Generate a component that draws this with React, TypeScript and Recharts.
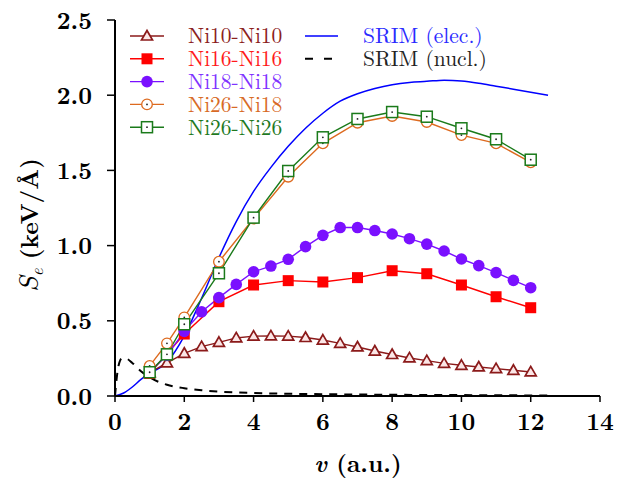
import { LineChart, Line, XAxis, YAxis } from "recharts";

// velocities (a.u.) and stopping (keV/Å)
const ni10V = [1, 1.5, 2, 2.5, 3, 3.5, 4, 4.5, 5, 5.5, 6, 6.5, 7, 7.5, 8, 8.5, 9, 9.5, 10, 10.5, 11, 11.5, 12];
const ni10S = [0.155, 0.22, 0.284, 0.328, 0.357, 0.386, 0.398, 0.4, 0.398, 0.389, 0.372, 0.35, 0.326, 0.299, 0.276, 0.253, 0.235, 0.217, 0.204, 0.193, 0.182, 0.171, 0.16];

const ni16V = [1, 2, 3, 4, 5, 6, 7, 8, 9, 10, 11, 12];
const ni16S = [0.15, 0.412, 0.627, 0.738, 0.767, 0.758, 0.787, 0.833, 0.813, 0.738, 0.66, 0.587];

const ni18V = [1, 1.5, 2, 2.5, 3, 3.5, 4, 4.5, 5, 5.5, 6, 6.5, 7, 7.5, 8, 8.5, 9, 9.5, 10, 10.5, 11, 11.5, 12];
const ni18S = [0.16, 0.27, 0.43, 0.56, 0.654, 0.742, 0.826, 0.864, 0.909, 0.993, 1.068, 1.12, 1.12, 1.1, 1.077, 1.046, 1.01, 0.964, 0.911, 0.867, 0.82, 0.769, 0.72];

const ni2618V = [1, 1.5, 2, 3, 4, 5, 6, 7, 8, 9, 10, 11, 12];
const ni2618S = [0.2, 0.35, 0.523, 0.893, 1.18, 1.458, 1.68, 1.817, 1.862, 1.822, 1.735, 1.68, 1.554];

const ni2626V = [1, 1.5, 2, 3, 4, 5, 6, 7, 8, 9, 10, 11, 12];
const ni2626S = [0.158, 0.277, 0.477, 0.816, 1.186, 1.496, 1.72, 1.842, 1.888, 1.857, 1.78, 1.707, 1.571];

const elecV = [0, 0.25, 0.5, 0.75, 1, 1.5, 2, 2.5, 3, 3.5, 4, 4.5, 5, 5.5, 6, 6.5, 7, 7.5, 8, 8.5, 9, 9.5, 10, 10.5, 11, 11.5, 12, 12.5];
const elecS = [0, 0.02, 0.06, 0.11, 0.15, 0.225, 0.4, 0.65, 0.92, 1.16, 1.36, 1.52, 1.66, 1.78, 1.88, 1.96, 2.01, 2.045, 2.07, 2.085, 2.092, 2.1, 2.095, 2.08, 2.06, 2.04, 2.02, 2.0];

const nuclV = [0, 0.05, 0.1, 0.2, 0.3, 0.5, 0.75, 1, 1.25, 1.5, 2, 2.5, 3, 4, 5, 6, 7, 8, 9, 10, 11, 12, 12.5];
const nuclS = [0, 0.12, 0.2, 0.25, 0.25, 0.22, 0.165, 0.125, 0.095, 0.075, 0.052, 0.038, 0.029, 0.02, 0.015, 0.012, 0.01, 0.008, 0.007, 0.006, 0.005, 0.004, 0.004];

const xTicks = [0, 2, 4, 6, 8, 10, 12, 14];
const yTicks = [0, 0.5, 1, 1.5, 2, 2.5];

const C10 = "#8b1a1a";
const C16 = "#ff0000";
const C18 = "#7a10ff";
const C2618 = "#dd6a1f";
const C2626 = "#1a7a1a";
const CELEC = "#0000ff";

const pts = (v: number[], s: number[]) => v.map((x, i) => ({ v: x, s: s[i] }));

const cm = '"Latin Modern Roman", "DejaVu Serif", serif';

type DotProps = { cx?: number; cy?: number; index?: number };

function Tri({ cx = 0, cy = 0, color }: { cx?: number; cy?: number; color: string }) {
  return (
    <path
      d={`M${cx},${cy - 5.5} L${cx + 5.5},${cy + 4} L${cx - 5.5},${cy + 4} Z`}
      fill="#fbe6e6"
      stroke={color}
      strokeWidth={1.7}
    />
  );
}
function Sq({ cx = 0, cy = 0, color, open }: { cx?: number; cy?: number; color: string; open?: boolean }) {
  return (
    <g>
      <rect x={cx - 5.5} y={cy - 5.5} width={11} height={11} fill={open ? "#fff" : color} stroke={color} strokeWidth={open ? 1.5 : 0} />
      {open && <circle cx={cx} cy={cy} r={0.9} fill="#222" />}
    </g>
  );
}
function Circ({ cx = 0, cy = 0, color, open }: { cx?: number; cy?: number; color: string; open?: boolean }) {
  return (
    <g>
      <circle cx={cx} cy={cy} r={open ? 5.3 : 5.8} fill={open ? "#fff" : color} stroke={color} strokeWidth={open ? 1.3 : 0} />
      {open && <circle cx={cx} cy={cy} r={0.9} fill="#222" />}
    </g>
  );
}

const series = [
  { name: "Ni10-Ni10", v: ni10V, s: ni10S, color: C10, text: "#8b2020", Marker: (p: any) => <Tri {...p} color={C10} /> },
  { name: "Ni16-Ni16", v: ni16V, s: ni16S, color: C16, text: "#ff1a1a", Marker: (p: any) => <Sq {...p} color={C16} /> },
  { name: "Ni18-Ni18", v: ni18V, s: ni18S, color: C18, text: "#8033ff", Marker: (p: any) => <Circ {...p} color={C18} /> },
  { name: "Ni26-Ni18", v: ni2618V, s: ni2618S, color: C2618, text: "#d86a26", Marker: (p: any) => <Circ {...p} color={C2618} open /> },
  { name: "Ni26-Ni26", v: ni2626V, s: ni2626S, color: C2626, text: "#1f7a1f", Marker: (p: any) => <Sq {...p} color={C2626} open /> },
];

function Overlay() {
  const rowY = (i: number) => 36 + i * 22.8;
  const lg = { fontFamily: cm, fontSize: 21.5 };
  return (
    <svg width={617} height={483} style={{ position: "absolute", left: 0, top: 0, pointerEvents: "none" }}>
      {series.map((s, i) => (
        <g key={s.name}>
          <line x1={130} x2={164} y1={rowY(i)} y2={rowY(i)} stroke={s.color} strokeWidth={1.4} />
          <s.Marker cx={147} cy={rowY(i)} />
          <text x={188} y={rowY(i) + 7.3} style={lg} fill={s.text}>
            {s.name}
          </text>
        </g>
      ))}
      <line x1={305} x2={338} y1={rowY(0)} y2={rowY(0)} stroke={CELEC} strokeWidth={1.5} />
      <text x={363} y={rowY(0) + 7.3} style={lg} fill="#2a2aff">
        SRIM (elec.)
      </text>
      <line x1={305} x2={334} y1={rowY(1)} y2={rowY(1)} stroke="#000" strokeWidth={2} strokeDasharray="8 11" />
      <text x={363} y={rowY(1) + 7.3} style={lg} fill="#222">
        SRIM (nucl.)
      </text>

      <text x={358} y={472} textAnchor="middle" style={{ fontFamily: cm, fontSize: 24, fontWeight: "bold" }} fill="#000">
        <tspan style={{ fontStyle: "italic" }}>v</tspan> (a.u.)
      </text>
      <text
        transform="translate(38,225) rotate(-90)"
        textAnchor="middle"
        style={{ fontFamily: cm, fontSize: 24, fontWeight: "bold" }}
        fill="#000"
      >
        <tspan style={{ fontStyle: "italic", fontWeight: "normal", fontSize: 28 }}>S</tspan>
        <tspan dy={5} style={{ fontStyle: "italic", fontWeight: "normal", fontSize: 17 }}>e</tspan>
        <tspan dy={-5}> (keV/Å)</tspan>
      </text>
    </svg>
  );
}

const tickStyle = { fontSize: 24, fontWeight: "bold", fill: "#000", style: { fontFamily: cm } };

export default function App() {
  return (
    <div style={{ position: "absolute", left: 0, top: 0, width: 617, height: 483, background: "#fff", fontFamily: cm }}>
      <LineChart width={617} height={483} margin={{ top: 20, right: 17, bottom: 0, left: 0 }}>
        <XAxis
          dataKey="v"
          type="number"
          domain={[0, 14]}
          ticks={xTicks}
          height={87}
          tickSize={6}
          tickMargin={11}
          tick={tickStyle}
          axisLine={{ stroke: "#000", strokeWidth: 2 }}
          tickLine={{ stroke: "#000", strokeWidth: 1.5 }}
        />
        <XAxis xAxisId="top" orientation="top" type="number" domain={[0, 14]} height={0} tick={false} tickLine={false} axisLine={{ stroke: "#000", strokeWidth: 2 }} />
        <YAxis
          type="number"
          domain={[0, 2.5]}
          ticks={yTicks}
          width={115}
          tickSize={8}
          tickMargin={15}
          tick={tickStyle}
          tickFormatter={(t: number) => t.toFixed(1)}
          axisLine={{ stroke: "#000", strokeWidth: 2 }}
          tickLine={{ stroke: "#000", strokeWidth: 1.5 }}
        />
        <YAxis yAxisId="right" orientation="right" type="number" domain={[0, 2.5]} width={0} tick={false} tickLine={false} axisLine={{ stroke: "#000", strokeWidth: 2 }} />

        <Line data={pts(nuclV, nuclS)} dataKey="s" type="monotone" stroke="#000" strokeWidth={2} strokeDasharray="8 7" dot={false} isAnimationActive={false} />
        <Line data={pts(elecV, elecS)} dataKey="s" type="monotone" stroke={CELEC} strokeWidth={1.5} dot={false} isAnimationActive={false} />
        {series.map((s) => (
          <Line
            key={s.name}
            data={pts(s.v, s.s)}
            dataKey="s"
            type="linear"
            stroke={s.color}
            strokeWidth={1.4}
            isAnimationActive={false}
            dot={(p: DotProps) => <s.Marker key={`${s.name}-${p.index}`} cx={p.cx} cy={p.cy} />}
            activeDot={false}
          />
        ))}
      </LineChart>
      <Overlay />
    </div>
  );
}
